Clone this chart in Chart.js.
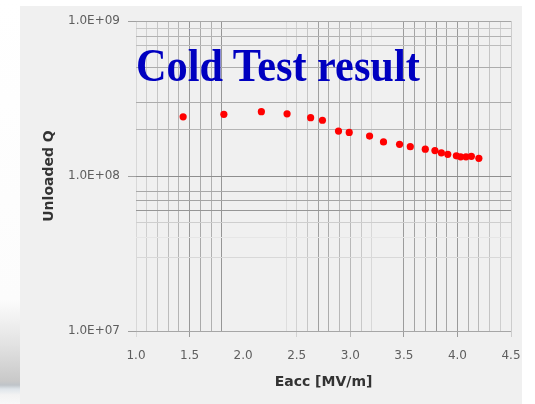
<!DOCTYPE html>
<html>
<head>
<meta charset="utf-8">
<script src="https://cdn.jsdelivr.net/npm/chart.js@4.4.1/dist/chart.umd.min.js"></script>
<style>
  html, body { margin: 0; padding: 0; background: #ffffff; }
  #wrap { position: relative; width: 535px; height: 404px; overflow: hidden; }
  #edge {
    position: absolute; left: 0; top: 0; width: 20px; height: 404px;
    background: linear-gradient(to bottom, #ffffff 0px, #fcfcfc 300px, #e2e2e2 345px,
      #c9c9c9 381px, #bfc4c9 385px, #dfe5ea 389px, #f3f3f3 395px, #f8f8f8 404px);
  }
  #panel { position: absolute; left: 20px; top: 6px; width: 502px; height: 398px; background: #f0f0f0; }
  #chart { position: absolute; left: 0; top: 0; }
  #caption {
    position: absolute; left: 136px; top: 43px;
    font: bold 46px "Liberation Serif", "Times New Roman", serif;
    line-height: 46px; color: #0000c0; white-space: nowrap;
    transform: scaleX(0.92); transform-origin: 0 0;
  }
</style>
</head>
<body>
<div id="wrap">
  <div id="edge"></div>
  <div id="panel"></div>
  <canvas id="chart" width="535" height="404"></canvas>
  <div id="caption">Cold Test result</div>
</div>
<script>
// Accelerating gradient Eacc [MV/m] and unloaded Q measured in the cold test
const eacc = [1.44, 1.82, 2.17, 2.41, 2.63, 2.74, 2.89, 2.99, 3.18, 3.31, 3.46,
              3.56, 3.70, 3.79, 3.85, 3.91, 3.99, 4.03, 4.08, 4.13, 4.20];
const unloadedQ = [2.41e8, 2.50e8, 2.60e8, 2.52e8, 2.38e8, 2.29e8, 1.95e8, 1.91e8, 1.81e8, 1.66e8, 1.60e8,
                   1.545e8, 1.49e8, 1.46e8, 1.41e8, 1.38e8, 1.35e8, 1.33e8, 1.33e8, 1.34e8, 1.30e8];

// Axis ranges and labelled ticks
const xRange = [1.0, 4.5];
const xTickLabels = ['1.0', '1.5', '2.0', '2.5', '3.0', '3.5', '4.0', '4.5'];
const yRange = [1e7, 1e9];
const yTickLabels = ['1.0E+07', '1.0E+08', '1.0E+09'];

// Grid line shades: one per 0.1 step on x, one per log minor step on y
const xGridShades = [
  '#d8d8d8', '#cfcfcf', '#c6c6c6', '#bcbcbc', '#b4b4b4', '#989898', '#aaaaaa', '#b0b0b0', '#969696',
  'transparent', 'transparent', 'transparent', 'transparent', 'transparent',
  '#dedede', '#d2d2d2', '#c6c6c6', '#a0a0a0', '#acacac', '#b8b8b8', '#b8b8b8', '#c8c8c8', '#d8d8d8',
  'transparent', 'transparent',
  '#9c9c9c', '#a4a4a4', '#acacac', '#969696', '#a6a6a6', '#9a9a9a', '#aeaeae', '#b8b8b8', '#c4c4c4',
  '#cecece', '#cccccc'
];
const yGridShades = [
  '#a6a6a6', 'transparent', '#d8d8d8', '#e6e6e6', '#cecece', '#969696', '#a4a4a4', '#a8a8a8', 'transparent',
  '#8e8e8e', '#b4b4b4', '#acacac', 'transparent', '#acacac', 'transparent', '#bcbcbc', '#b2b2b2', '#c6c6c6',
  '#a6a6a6'
];

const tickFont = { family: 'DejaVu Sans', size: 12 };
const titleFont = { family: 'DejaVu Sans', size: 14, weight: 'bold' };

new Chart(document.getElementById('chart'), {
  type: 'scatter',
  data: {
    datasets: [{
      data: eacc.map((x, i) => ({ x: x, y: unloadedQ[i] })),
      pointRadius: 3.6,
      pointBackgroundColor: '#ff0000',
      pointBorderWidth: 0,
      showLine: false
    }]
  },
  options: {
    responsive: false,
    animation: false,
    devicePixelRatio: 1,
    layout: { padding: { top: 21, right: 24, left: 0, bottom: 0 } },
    plugins: { legend: { display: false }, tooltip: { enabled: false } },
    scales: {
      x: {
        type: 'linear',
        min: xRange[0],
        max: xRange[1],
        afterBuildTicks: (scale) => {
          const n = Math.round((xRange[1] - xRange[0]) * 10);
          scale.ticks = Array.from({ length: n + 1 }, (_, i) => ({ value: Math.round((xRange[0] * 10 + i)) / 10 }));
        },
        afterFit: (scale) => { scale.height = 73; },
        ticks: {
          autoSkip: false,
          maxRotation: 0,
          padding: 12,
          color: '#5e5e5e',
          font: tickFont,
          callback: (v, i) => (i % 5 === 0 ? xTickLabels[i / 5] : '')
        },
        grid: {
          color: (c) => xGridShades[c.index] || 'transparent',
          tickColor: (c) => (c.index % 5 === 0 ? (xGridShades[c.index] || 'transparent') : 'transparent'),
          tickLength: 6,
          lineWidth: 1
        },
        border: { display: false },
        title: {
          display: true,
          text: 'Eacc [MV/m]',
          color: '#333333',
          font: titleFont,
          padding: { top: 0, bottom: 13 }
        }
      },
      y: {
        type: 'logarithmic',
        min: yRange[0],
        max: yRange[1],
        afterBuildTicks: (scale) => {
          const t = [];
          for (let e = 7; e <= 8; e++) {
            for (let m = 1; m <= 9; m++) t.push({ value: m * Math.pow(10, e) });
          }
          t.push({ value: 1e9 });
          scale.ticks = t;
        },
        afterFit: (scale) => { scale.width = 136; },
        ticks: {
          autoSkip: false,
          padding: 8,
          color: '#5e5e5e',
          font: tickFont,
          callback: (v, i) => (i % 9 === 0 ? yTickLabels[i / 9] : '')
        },
        grid: {
          color: (c) => yGridShades[c.index] || 'transparent',
          tickColor: (c) => (c.index % 9 === 0 ? '#a0a0a0' : 'transparent'),
          tickLength: 8,
          lineWidth: 1
        },
        border: { display: false },
        title: {
          display: true,
          text: 'Unloaded Q',
          color: '#333333',
          font: titleFont,
          padding: { top: 41, bottom: 0 }
        }
      }
    }
  }
});
</script>
</body>
</html>
